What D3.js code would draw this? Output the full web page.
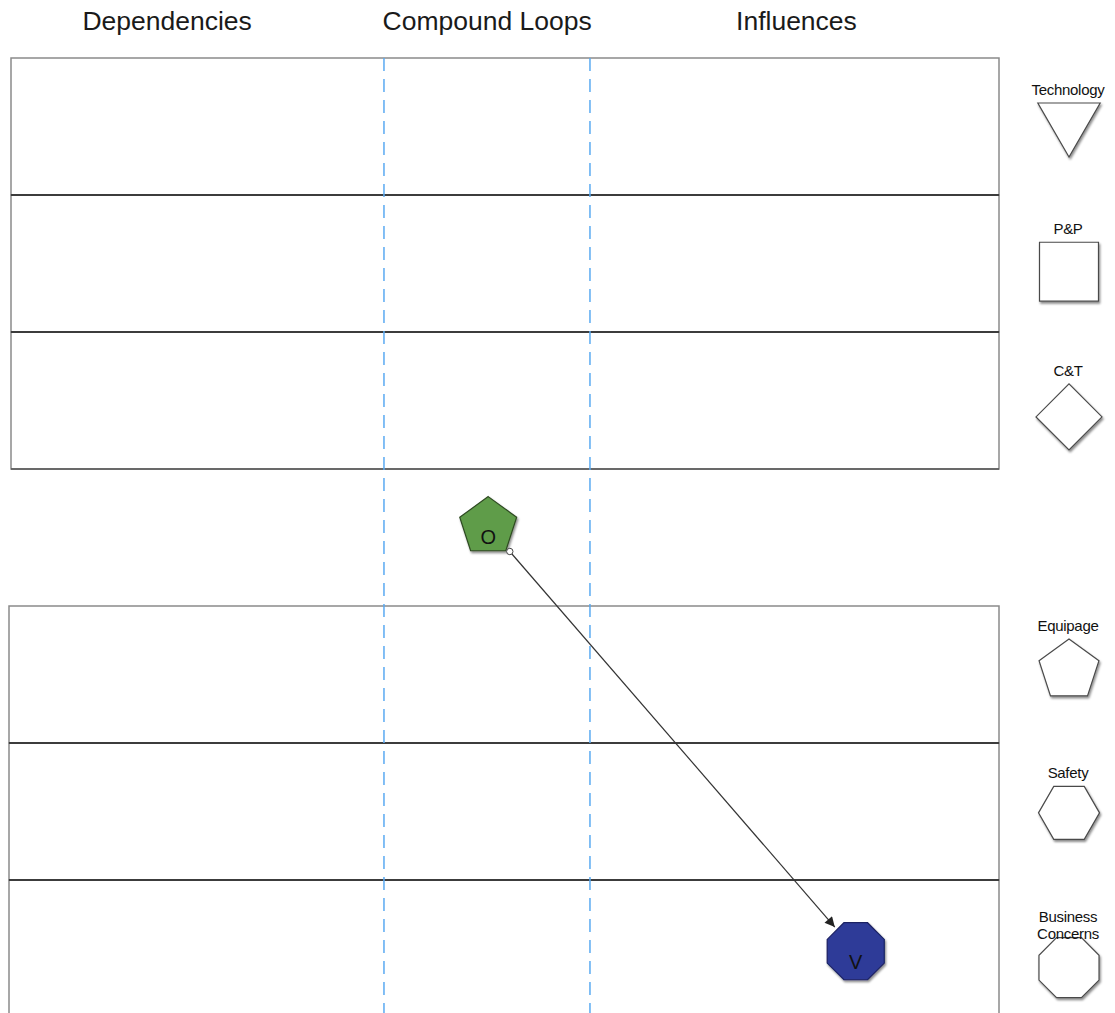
<!DOCTYPE html>
<html><head><meta charset="utf-8">
<script src="https://cdn.jsdelivr.net/npm/d3@7"></script>
<style>html,body{margin:0;padding:0;background:#fff;}svg{display:block;}</style>
</head><body>
<svg id="chart" width="1115" height="1013"></svg>
<script>
// ---- data ----
const columns = ["Dependencies", "Compound Loops", "Influences"];
const columnDividers = [37.75, 58.6];            // in x-units (0..100)
const columnTitleAt = [15.8, 48.2, 79.5];        // x-units
const rows = ["Technology", "P&P", "C&T", "Loops", "Equipage", "Safety", "Business Concerns"];
const rowBordered = [true, true, true, false, true, true, true];
const legendLabels = [["Technology"], ["P&P"], ["C&T"], null, ["Equipage"], ["Safety"], ["Business", "Concerns"]];
const legendShapes = ["triangle", "square", "diamond", null, "pentagon", "hexagon", "octagon"];
const legendPosInRow = [0.46, 0.56, 0.62, null, 0.47, 0.51, 0.64];
const nodeIds = ["O", "V"];
const nodeRows = ["Loops", "Business Concerns"];
const nodeX = [48.3, 85.5];
const nodePosInRow = [0.42, 0.52];
const nodeShapes = ["pentagon", "octagon"];
const nodeColors = ["#5f9c48", "#2f3b98"];
const nodeStrokes = ["#2e4a22", "#1a2163"];
const links = [["O", "V"]];

// ---- layout ----
const svg = d3.select("#chart");
const x = d3.scaleLinear().domain([0, 100]).range([11, 999]);
const y = d3.scaleBand().domain(rows).range([58, 58 + 137 * rows.length]).padding(0);
const legendX = 1069;
const FONT = "Liberation Sans, Arial, Helvetica, sans-serif";

const defs = svg.append("defs");
const f = defs.append("filter").attr("id", "shadow").attr("x", "-30%").attr("y", "-30%").attr("width", "160%").attr("height", "160%");
f.append("feDropShadow").attr("dx", 1.2).attr("dy", 2).attr("stdDeviation", 1.3).attr("flood-color", "#000").attr("flood-opacity", 0.45);
defs.append("marker").attr("id", "arrow").attr("viewBox", "0 0 10 10").attr("refX", 10).attr("refY", 5)
  .attr("markerWidth", 14).attr("markerHeight", 10).attr("markerUnits", "userSpaceOnUse").attr("orient", "auto")
  .append("path").attr("d", "M0,0 L10,5 L0,10 Z").attr("fill", "#222");

// shape geometry
const shapeSpec = {
  triangle: {n: 3, R: 36, rot: 90},
  square: {n: 4, R: 41.7, rot: 45},
  diamond: {n: 4, R: 33, rot: 0},
  pentagon: {n: 5, R: 31.5, rot: -90},
  hexagon: {n: 6, R: 30.5, rot: 0},
  octagon: {n: 8, R: 32.5, rot: 22.5}
};
function polyPoints(type, cx, cy, scale) {
  const s = shapeSpec[type]; const R = s.R * (scale || 1);
  return d3.range(s.n).map(i => {
    const a = (s.rot + i * 360 / s.n) * Math.PI / 180;
    return [cx + R * Math.cos(a), cy + R * Math.sin(a)];
  });
}
const line = d3.line().curve(d3.curveLinearClosed);

// column titles
svg.append("g").selectAll("text").data(columns).join("text")
  .attr("x", (d, i) => x(columnTitleAt[i])).attr("y", 30)
  .attr("text-anchor", "middle").attr("font-family", FONT)
  .attr("font-size", 26.5).attr("fill", "#1a1a1a").text(d => d);

// rows
const rowG = svg.append("g");
rows.forEach((r, i) => {
  if (!rowBordered[i]) return;
  rowG.append("rect").attr("x", x(0) - (i > 3 ? 2 : 0)).attr("y", y(r))
    .attr("width", x(100) - x(0) + (i > 3 ? 2 : 0)).attr("height", y.bandwidth())
    .attr("fill", "none").attr("stroke", "#8a8a8a").attr("stroke-width", 1.5);
});
rows.forEach((r, i) => {
  if (i > 0 && rowBordered[i] && rowBordered[i - 1]) {
    rowG.append("line").attr("x1", x(0) - (i > 3 ? 2 : 0)).attr("x2", x(100))
      .attr("y1", y(r)).attr("y2", y(r)).attr("stroke", "#3c3c3c").attr("stroke-width", 2);
  }
  if (i === rows.length - 1 || (rowBordered[i] && !rowBordered[i + 1])) {
    rowG.append("line").attr("x1", x(0)).attr("x2", x(100))
      .attr("y1", y(r) + y.bandwidth()).attr("y2", y(r) + y.bandwidth()).attr("stroke", "#555").attr("stroke-width", 1.5);
  }
});

// dashed column dividers
svg.append("g").selectAll("line").data(columnDividers).join("line")
  .attr("x1", d => x(d)).attr("x2", d => x(d)).attr("y1", 58).attr("y2", 1013)
  .attr("stroke", "#5aaaf2").attr("stroke-width", 1.5).attr("stroke-dasharray", "13,8");

// legend
const legG = svg.append("g");
rows.forEach((r, i) => {
  if (!legendShapes[i]) return;
  const cy = y(r) + legendPosInRow[i] * y.bandwidth();
  const pts = polyPoints(legendShapes[i], legendX, cy);
  legG.append("path").attr("d", line(pts)).attr("fill", "#fff").attr("stroke", "#4a4a4a")
    .attr("stroke-width", 1.2).attr("filter", "url(#shadow)");
  const top = d3.min(pts, p => p[1]);
  const lbl = legendLabels[i];
  const base = lbl.length > 1 ? top + 1 : top - 8;
  lbl.forEach((t, k) => {
    legG.append("text").attr("x", legendX - 1).attr("y", base - (lbl.length - 1 - k) * 17)
      .attr("text-anchor", "middle").attr("font-family", FONT)
      .attr("font-size", 15).attr("letter-spacing", -0.3).attr("fill", "#111").text(t);
  });
});

// nodes
const nodes = nodeIds.map((id, i) => ({
  id, shape: nodeShapes[i], fill: nodeColors[i], stroke: nodeStrokes[i],
  cx: x(nodeX[i]), cy: y(nodeRows[i]) + nodePosInRow[i] * y.bandwidth()
}));
const byId = Object.fromEntries(nodes.map(n => [n.id, n]));

// links
const linkG = svg.append("g");
links.forEach(([s, t]) => {
  const a = byId[s], b = byId[t];
  const dx = b.cx - a.cx, dy = b.cy - a.cy, L = Math.hypot(dx, dy);
  const ux = dx / L, uy = dy / L;
  const x1 = a.cx + ux * 33, y1 = a.cy + uy * 33;
  const x2 = b.cx - ux * 32, y2 = b.cy - uy * 32;
  linkG.append("line").attr("x1", x1).attr("y1", y1).attr("x2", x2).attr("y2", y2)
    .attr("stroke", "#333").attr("stroke-width", 1.2).attr("marker-end", "url(#arrow)");
  linkG.append("circle").attr("cx", x1).attr("cy", y1).attr("r", 3.2)
    .attr("fill", "#fff").attr("stroke", "#444").attr("stroke-width", 1);
});

const nodeG = svg.append("g").selectAll("g").data(nodes).join("g");
nodeG.append("path").attr("d", d => line(polyPoints(d.shape, d.cx, d.cy, 0.95)))
  .attr("fill", d => d.fill).attr("stroke", d => d.stroke).attr("stroke-width", 1.2)
  .attr("filter", "url(#shadow)");
nodeG.append("text").attr("x", d => d.cx).attr("y", d => d.cy + (d.shape === "pentagon" ? 17 : 18))
  .attr("text-anchor", "middle")
  .attr("font-family", FONT).attr("font-size", 20)
  .attr("fill", "#111").text(d => d.id);
linkG.selectAll("circle").raise();
linkG.raise();
</script>
</body></html>
